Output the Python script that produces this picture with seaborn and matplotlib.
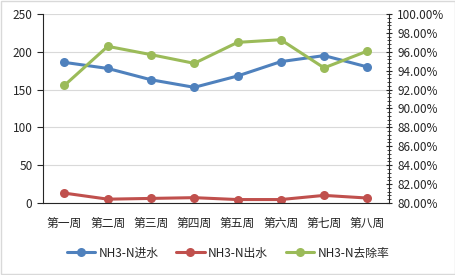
import numpy as np
import pandas as pd
import seaborn as sns
import matplotlib.pyplot as plt
from matplotlib.ticker import MultipleLocator, FuncFormatter
from matplotlib.lines import Line2D

weeks = ['第一周', '第二周', '第三周', '第四周', '第五周', '第六周', '第七周', '第八周']
inflow = [186, 178, 163, 153, 168, 187, 195, 180]       # NH3-N进水
outflow = [13, 5, 6, 7, 4.5, 4.5, 10, 6.5]              # NH3-N出水
removal = [92.45, 96.58, 95.7, 94.78, 97.0, 97.28, 94.3, 96.08]  # NH3-N去除率 (%)

names = ['NH3-N进水', 'NH3-N出水', 'NH3-N去除率']
colors = ['#4F81BD', '#C0504D', '#9BBB59']

sns.set_style('white')
plt.rcParams['font.family'] = ['Noto Sans CJK SC', 'DejaVu Sans']

df = pd.DataFrame({'week': weeks * 2,
                   'value': inflow + outflow,
                   'series': [names[0]] * 8 + [names[1]] * 8})
df_r = pd.DataFrame({'week': weeks, 'value': removal})

fig = plt.figure(figsize=(4.56, 2.75), dpi=100)
ax = fig.add_axes([0.094, 0.262, 0.759, 0.687])

sns.lineplot(data=df, x='week', y='value', hue='series', palette=colors[:2],
             marker='o', markersize=6.5, markeredgewidth=0, linewidth=2.2,
             sort=False, ax=ax, legend=False)
ax2 = ax.twinx()
sns.lineplot(data=df_r, x='week', y='value', color=colors[2],
             marker='o', markersize=6.5, markeredgewidth=0, linewidth=2.2,
             sort=False, ax=ax2, legend=False)

fs = 8.5
ax.set_ylim(0, 250)
ax.set_xlim(-0.5, 7.5)
ax.yaxis.set_major_locator(MultipleLocator(50))
ax.grid(axis='y', color='#d9d9d9', linewidth=0.8)
ax.set_axisbelow(True)
ax.set_xlabel('')
ax.set_ylabel('')
ax.set_xticks(np.arange(8))
ax.set_xticklabels(weeks)
ax.set_xticks(np.arange(-0.5, 8, 1), minor=True)
ax.tick_params(axis='x', which='major', length=0, labelsize=fs, colors='#262626', pad=10)
ax.tick_params(axis='x', which='minor', length=4, direction='out', color='#262626')
ax.tick_params(axis='y', length=4, direction='out', labelsize=fs, colors='#262626', left=True)

ax2.set_ylim(80, 100)
ax2.yaxis.set_major_locator(MultipleLocator(2))
ax2.yaxis.set_minor_locator(MultipleLocator(0.4))
ax2.yaxis.set_major_formatter(FuncFormatter(lambda v, p: f'{v:.2f}%'))
ax2.set_ylabel('')
ax2.tick_params(axis='y', which='major', length=5, direction='inout', labelsize=fs, colors='#262626')
ax2.tick_params(axis='y', which='minor', length=3, direction='inout', color='#262626')

for a in (ax, ax2):
    for s in a.spines.values():
        s.set_visible(False)
ax.spines['left'].set_visible(True)
ax.spines['bottom'].set_visible(True)
ax2.spines['right'].set_visible(True)
for s in (ax.spines['left'], ax.spines['bottom'], ax2.spines['right']):
    s.set_color('#262626')
    s.set_linewidth(0.8)

handles = [Line2D([0], [0], color=c, marker='o', markersize=6.5, markeredgewidth=0, linewidth=2.2)
           for c in colors]
fig.legend(handles, names, loc='center', bbox_to_anchor=(0.5, 0.08), ncol=3,
           frameon=False, fontsize=fs, handlelength=2.4, columnspacing=1.5,
           handletextpad=0.3)

fig.patches.append(plt.Rectangle((0.003, 0.005), 0.994, 0.99, transform=fig.transFigure,
                                 fill=False, edgecolor='#d9d9d9', linewidth=1))

fig.savefig('out.png', dpi=100)
